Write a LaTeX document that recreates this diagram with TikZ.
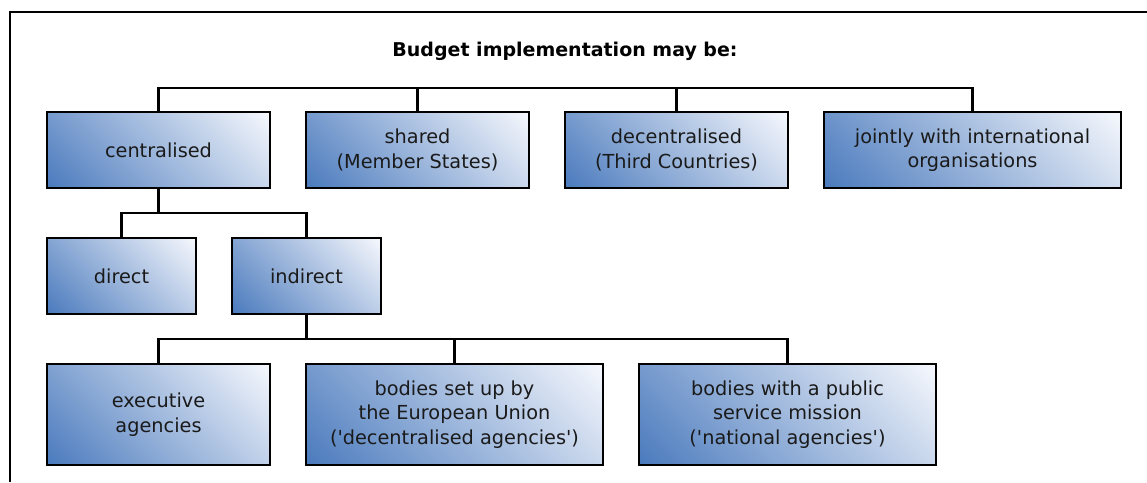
\documentclass[tikz,border=0pt]{standalone}
\usepackage{fontspec}
\setmainfont{DejaVu Sans}[Ligatures=TeXOff]
\definecolor{boxdark}{HTML}{4A7ABD}
\definecolor{boxlight}{HTML}{F6F8FD}
\definecolor{txt}{HTML}{1A1A1A}
\pgfdeclareverticalshading{boxgrad}{100bp}{color(0bp)=(boxdark); color(14.6bp)=(boxdark); color(85.4bp)=(boxlight); color(100bp)=(boxlight)}
\tikzset{
  unitbox/.style={draw=black, line width=2.5pt, inner sep=0pt, align=center,
    text=txt, font=\fontsize{19.3}{24.5}\selectfont,
    shading=boxgrad, shading angle=-45,
    minimum height=76pt},
  wide/.style={minimum width=223pt},
  wider/.style={minimum width=297pt},
  narrow/.style={minimum width=149pt},
  tall/.style={minimum height=101pt},
  link/.style={draw=black, line width=2.5pt},
}
\begin{document}
\begin{tikzpicture}[x=1pt,y=-1pt]
\useasboundingbox (0,0) rectangle (1147,482);
\fill[white] (0,0) rectangle (1147,482);
% frame
\draw[line width=2.5pt] (10,482) -- (10,12) -- (1147,12);
% title
\node[font=\fontsize{19}{22}\selectfont\bfseries, text=black] (title) at (565,51) {Budget implementation may be:};
% row 1
\node[unitbox, wide] (cent) at (158.5,150) {centralised};
\node[unitbox, wide] (shared) at (417.5,150) {shared\\(Member States)};
\node[unitbox, wide] (decent) at (676.5,150) {decentralised\\(Third Countries)};
\node[unitbox, wider] (joint) at (972.5,150) {jointly with international\\organisations};
% row 2
\node[unitbox, narrow] (direct) at (121.5,276) {direct};
\node[unitbox, narrow] (indirect) at (306.5,276) {indirect};
% row 3
\node[unitbox, wide, tall] (exec) at (158.5,414.5) {executive\\agencies};
\node[unitbox, wider, tall] (eubod) at (454.5,414.5) {bodies set up by\\the European Union\\('decentralised agencies')};
\node[unitbox, wider, tall] (pubbod) at (787.5,414.5) {bodies with a public\\service mission\\('national agencies')};
% connectors
\coordinate (bus1) at (0,88);
\coordinate (bus2) at (0,213);
\coordinate (bus3) at (0,339);
\draw[link] (cent.north) -- (cent.north |- bus1) -| (joint.north);
\draw[link] (shared.north) -- (shared.north |- bus1);
\draw[link] (decent.north) -- (decent.north |- bus1);
\draw[link] (cent.south) -- (cent.south |- bus2);
\draw[link] (direct.north) |- (bus2 -| indirect.north) -- (indirect.north);
\draw[link] (indirect.south) -- (indirect.south |- bus3);
\draw[link] (exec.north) |- (bus3 -| pubbod.north) -- (pubbod.north);
\draw[link] (eubod.north) -- (eubod.north |- bus3);
\end{tikzpicture}
\end{document}
